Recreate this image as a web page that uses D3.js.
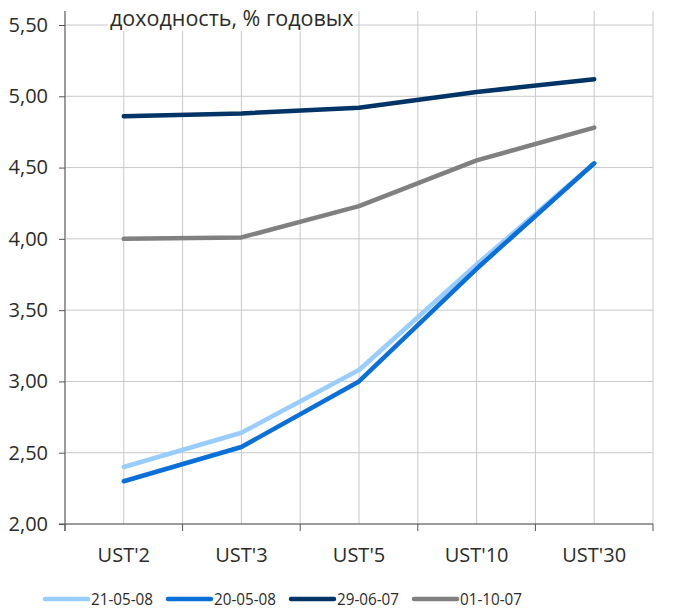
<!DOCTYPE html>
<html>
<head>
<meta charset="utf-8">
<script src="https://cdn.jsdelivr.net/npm/d3@7"></script>
<style>
	body { margin: 0; background: #fff; }
	svg text { font-family: "Open Sans", sans-serif; fill: #2b2b2b; }
</style>
</head>
<body>
<div id="svg-container"></div>
<script>

// DATA
const categories = ["UST'2", "UST'3", "UST'5", "UST'10", "UST'30"];
const seriesNames = ["21-05-08", "20-05-08", "29-06-07", "01-10-07"];
const s210508 = [2.40, 2.64, 3.08, 3.82, 4.53];
const s200508 = [2.30, 2.54, 3.00, 3.79, 4.53];
const s290607 = [4.86, 4.88, 4.92, 5.03, 5.12];
const s011007 = [4.00, 4.01, 4.23, 4.55, 4.78];
const yTicks = [2.0, 2.5, 3.0, 3.5, 4.0, 4.5, 5.0, 5.5];
const title = "доходность, % годовых";

const colors = ["#99ccff", "#0a6fd8", "#003366", "#808080"];

function drawChart() {
	// dimensions
	const w = 684;
	const h = 612;
	const left = 65;
	const right = 653;
	const top = 11;
	const bottom = 524;

	const series = [s210508, s200508, s290607, s011007].map((vals, i) => ({
		name: seriesNames[i],
		color: colors[i],
		values: vals.map((v, j) => ({ cat: categories[j], v: v }))
	}));

	// scales
	const x = d3.scaleBand().domain(categories).range([left, right]).padding(0);
	const y = d3.scaleLinear().domain([2, 5.5]).range([bottom, 25]);
	const bw = x.bandwidth();

	const svg = d3.select("#svg-container")
		.append("svg")
		.attr("width", w)
		.attr("height", h);

	// grid
	const vLines = [];
	categories.forEach(c => { vLines.push(x(c)); vLines.push(x(c) + bw / 2); });
	vLines.push(right);
	svg.append("g")
		.selectAll("line")
		.data(vLines)
		.join("line")
		.attr("x1", d => d).attr("x2", d => d)
		.attr("y1", top).attr("y2", bottom)
		.attr("stroke", "#c8c8c8")
		.attr("stroke-width", 1);
	svg.append("g")
		.selectAll("line")
		.data(yTicks)
		.join("line")
		.attr("x1", left).attr("x2", right)
		.attr("y1", d => y(d)).attr("y2", d => y(d))
		.attr("stroke", "#c8c8c8")
		.attr("stroke-width", 1);

	// title with white box
	const tg = svg.append("g");
	const tt = tg.append("text")
		.attr("x", 110)
		.attr("y", 26)
		.attr("font-size", 21.5)
		.text(title);
	const bb = tt.node().getBBox();
	tg.insert("rect", "text")
		.attr("x", bb.x - 2)
		.attr("y", top)
		.attr("width", bb.width + 4)
		.attr("height", 31 - top)
		.attr("fill", "#fff");

	// y axis
	const yAxis = svg.append("g")
		.attr("transform", `translate(${left},0)`)
		.call(d3.axisLeft(y)
			.tickValues(yTicks)
			.tickSize(6)
			.tickPadding(11)
			.tickFormat(d => d.toFixed(2).replace(".", ",")));
	yAxis.select(".domain").remove();
	yAxis.selectAll("line").attr("stroke", "#555");
	yAxis.selectAll("text").attr("font-size", 20).attr("font-family", null).attr("fill", null);

	// x axis labels
	const xAxis = svg.append("g")
		.attr("transform", `translate(0,${bottom})`)
		.call(d3.axisBottom(x).tickSize(0).tickPadding(24));
	xAxis.select(".domain").remove();
	xAxis.selectAll("text").attr("font-size", 20).attr("font-family", null).attr("fill", null);

	// axis lines
	svg.append("line")
		.attr("x1", left).attr("x2", left)
		.attr("y1", top).attr("y2", bottom + 7)
		.attr("stroke", "#555");
	svg.append("line")
		.attr("x1", left - 6).attr("x2", right)
		.attr("y1", bottom).attr("y2", bottom)
		.attr("stroke", "#555");
	svg.append("g")
		.selectAll("line")
		.data(categories.map(c => x(c) + bw).concat([x(categories[0])]))
		.join("line")
		.attr("x1", d => d).attr("x2", d => d)
		.attr("y1", bottom).attr("y2", bottom + 7)
		.attr("stroke", "#555");

	// lines
	const line = d3.line()
		.x(d => x(d.cat) + bw / 2)
		.y(d => y(d.v));
	svg.append("g")
		.selectAll("path")
		.data(series)
		.join("path")
		.attr("d", d => line(d.values))
		.attr("fill", "none")
		.attr("stroke", d => d.color)
		.attr("stroke-width", 4.5)
		.attr("stroke-linecap", "round")
		.attr("stroke-linejoin", "round");

	// legend
	const legX = [45, 168, 291, 414];
	const leg = svg.append("g")
		.selectAll("g")
		.data(series)
		.join("g")
		.attr("transform", (d, i) => `translate(${legX[i]},599)`);
	leg.append("line")
		.attr("x1", 0).attr("x2", 43)
		.attr("y1", 0).attr("y2", 0)
		.attr("stroke", d => d.color)
		.attr("stroke-width", 4.5)
		.attr("stroke-linecap", "round");
	leg.append("text")
		.attr("x", 46)
		.attr("y", 6)
		.attr("font-size", 17)
		.attr("textLength", 62)
		.attr("lengthAdjust", "spacingAndGlyphs")
		.text(d => d.name);
}

document.addEventListener('DOMContentLoaded', () => {
	drawChart();
});
</script>
</body>
</html>
